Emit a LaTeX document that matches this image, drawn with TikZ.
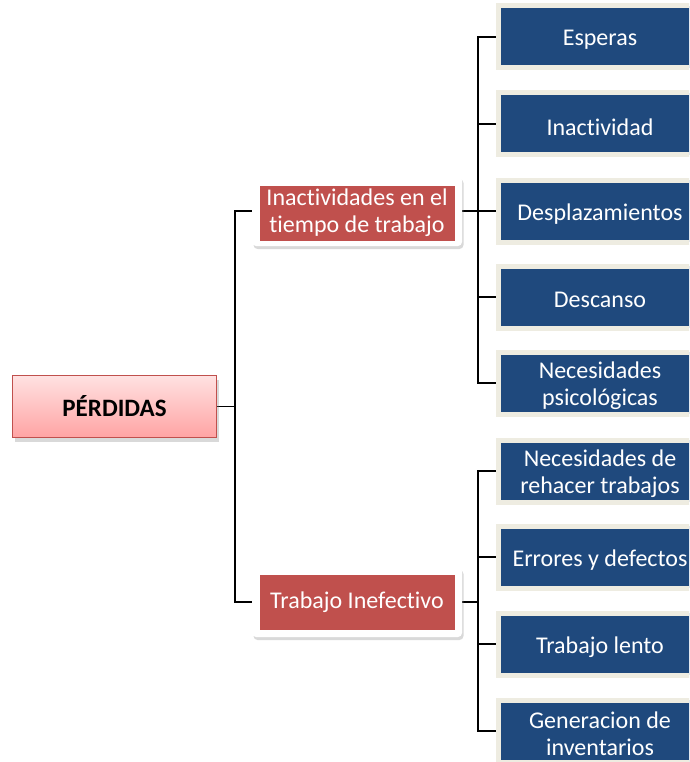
\documentclass[tikz,border=0pt]{standalone}
\usepackage{fontspec}
\setmainfont{Carlito}[Ligatures=NoCommon,Contextuals=NoAlternate]
\usetikzlibrary{shadows,backgrounds}
\definecolor{bluebox}{HTML}{1F497D}
\definecolor{beige}{HTML}{EEECE1}
\definecolor{midred}{HTML}{C0504D}
\definecolor{roottop}{HTML}{FFE2E2}
\definecolor{rootbot}{HTML}{FFA3A3}
\definecolor{rootline}{HTML}{C0504D}
\begin{document}
\begin{tikzpicture}[x=1pt,y=-1pt,
 leaf/.style={fill=bluebox, draw=beige, line width=5pt, minimum width=203pt, minimum height=62pt, inner sep=0pt},
 leaftxt/.style={text=white, align=center, inner sep=0pt, yshift=-3pt, font=\fontsize{24}{27}\selectfont},
 midframe/.style={fill=white, rounded corners=4pt, minimum width=210pt, minimum height=70pt, drop shadow={shadow xshift=1.5pt, shadow yshift=-3pt, opacity=0.3}},
 midbox/.style={fill=midred, text=white, minimum width=195pt, minimum height=55pt, align=center, inner sep=0pt, font=\fontsize{24}{27}\selectfont},
 rootbox/.style={top color=roottop, bottom color=rootbot, draw=rootline, line width=1.2pt, minimum width=204pt, minimum height=62pt, font=\bfseries\fontsize{25}{30}\selectfont, text=black, drop shadow={shadow xshift=2pt, shadow yshift=-4pt, opacity=0.3}},
 link/.style={line width=1.8pt, black}]
\useasboundingbox (0,0) rectangle (689,762);
\clip (0,0) rectangle (689,762);

\node[rootbox] (root) at (114.5,406.5) {PÉRDIDAS};

\node[midframe] (m1) at (357,211) {};
\node[midbox] (m1t) at ([yshift=-2pt]m1.center) {Inactividades en el\\tiempo de trabajo};
\node[midframe] (m2) at (357,602) {};
\node[midbox] (m2t) at (m2.center) {Trabajo Inefectivo};

\node[leaf, label={[leaftxt]center:{Esperas}}] (a1) at (600,37) {};
\node[leaf, label={[leaftxt]center:{Inactividad}}] (a2) at (600,124) {};
\node[leaf, label={[leaftxt]center:{Desplazamientos}}] (a3) at (600,211) {};
\node[leaf, label={[leaftxt]center:{Descanso}}] (a4) at (600,297) {};
\node[leaf, label={[leaftxt]center:{Necesidades\\psicológicas}}] (a5) at (600,383) {};

\node[leaf, label={[leaftxt]center:{Necesidades de\\rehacer trabajos}}] (b1) at (600,471) {};
\node[leaf, label={[leaftxt]center:{Errores y defectos}}] (b2) at (600,557) {};
\node[leaf, label={[leaftxt]center:{Trabajo lento}}] (b3) at (600,644) {};
\node[leaf, label={[leaftxt]center:{Generacion de\\inventarios}}] (b4) at (600,731) {};

\coordinate (j0) at (235,406.5);
\coordinate (j1) at (478,211);
\coordinate (j2) at (478,602);

\begin{scope}[on background layer]
\draw[link] (root.east) -- (j0) |- (m1.west);
\draw[link] (j0) |- (m2.west);
\draw[link] (m1.east) -- (j1);
\draw[link] (j1) |- (a1.west);
\draw[link] (j1) |- (a2.west);
\draw[link] (j1) -- (a3.west);
\draw[link] (j1) |- (a4.west);
\draw[link] (j1) |- (a5.west);
\draw[link] (m2.east) -- (j2);
\draw[link] (j2) |- (b1.west);
\draw[link] (j2) |- (b2.west);
\draw[link] (j2) |- (b3.west);
\draw[link] (j2) |- (b4.west);
\end{scope}
\end{tikzpicture}
\end{document}
